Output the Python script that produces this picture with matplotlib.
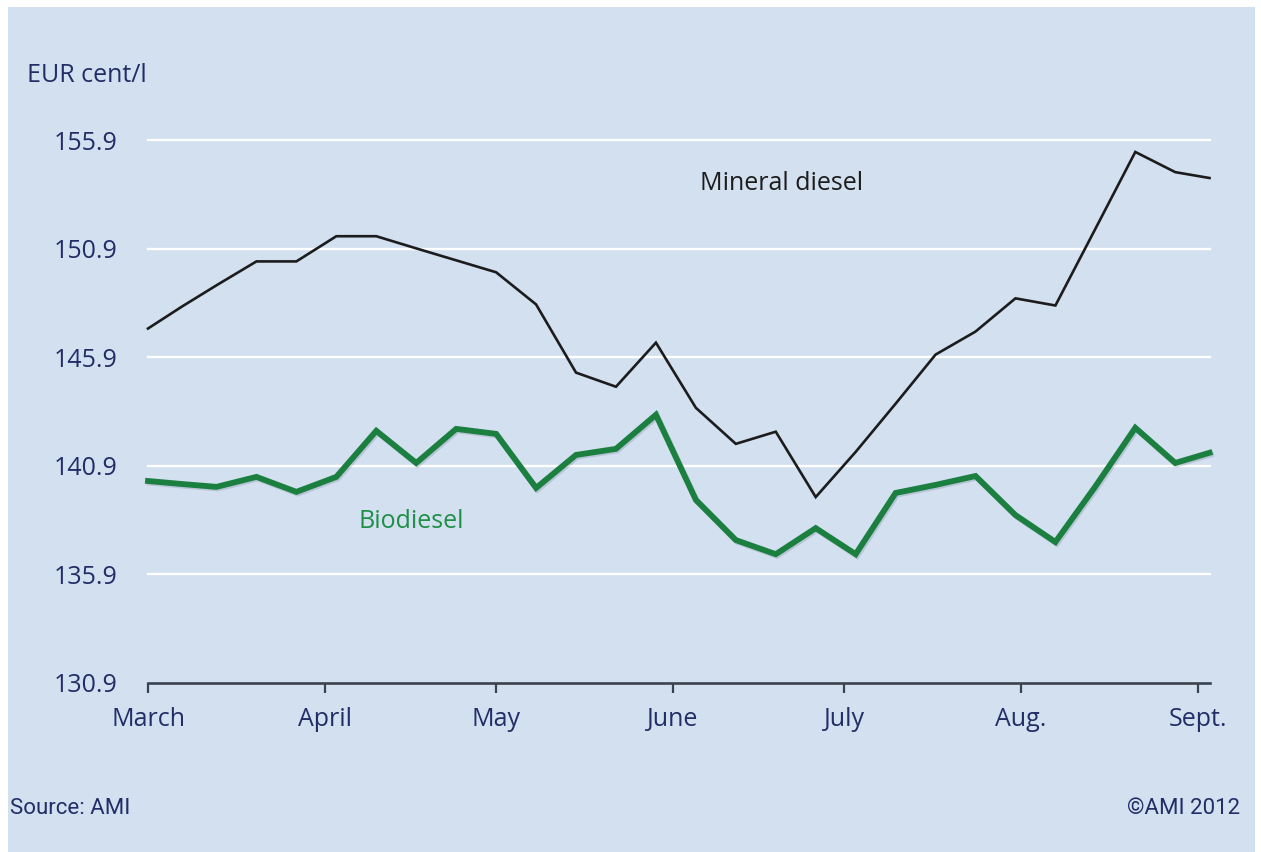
import matplotlib
matplotlib.use("Agg")
import matplotlib.pyplot as plt
import matplotlib.patheffects as pe
from matplotlib.patches import Rectangle
import pandas as pd

# Weekly consumer prices, EUR cent per litre (2012)
dates = ["2012-03-01", "2012-03-07", "2012-03-13", "2012-03-20", "2012-03-27",
         "2012-04-03", "2012-04-10", "2012-04-17", "2012-04-24", "2012-05-01",
         "2012-05-08", "2012-05-15", "2012-05-22", "2012-05-29", "2012-06-05",
         "2012-06-12", "2012-06-19", "2012-06-26", "2012-07-03", "2012-07-10",
         "2012-07-17", "2012-07-24", "2012-07-31", "2012-08-07", "2012-08-14",
         "2012-08-21", "2012-08-28", "2012-09-03"]
mineral_diesel = [147.22, 148.24, 149.21, 150.31, 150.31, 151.47, 151.47, 150.91,
                  150.36, 149.81, 148.33, 145.19, 144.54, 146.57, 143.57, 141.91,
                  142.47, 139.46, 141.54, 143.76, 146.02, 147.08, 148.61, 148.28,
                  151.81, 155.35, 154.42, 154.15]
biodiesel = [140.20, 140.06, 139.93, 140.39, 139.70, 140.39, 142.51, 141.03,
             142.60, 142.37, 139.88, 141.40, 141.68, 143.25, 139.33, 137.48,
             136.83, 138.03, 136.83, 139.65, 140.02, 140.43, 138.63, 137.39,
             139.95, 142.65, 141.03, 141.50]

month_ticks = ["2012-03-01", "2012-04-01", "2012-05-01", "2012-06-01",
               "2012-07-01", "2012-08-01", "2012-09-01"]
month_labels = ["March", "April", "May", "June", "July", "Aug.", "Sept."]
y_ticks = [130.9, 135.9, 140.9, 145.9, 150.9, 155.9]

BG = "#d3e0f0"
NAVY = "#232d66"
GREEN = "#1b7f40"
FONT = "Open Sans"

W, H = 1261, 852
fig = plt.figure(figsize=(W / 100, H / 100), dpi=100, facecolor="white")

# light blue panel with a thin white margin
fig.patches.append(Rectangle((8 / W, 0), (1255 - 8) / W, (H - 7) / H,
                             transform=fig.transFigure, facecolor=BG,
                             edgecolor="none", zorder=-10))

x = pd.to_datetime(dates)
x0 = pd.Timestamp("2012-03-01")
x1 = pd.Timestamp("2012-09-03")
px_per_day = 5.707
left_px, bottom_px, top_px = 148, 683, 140
right_px = left_px + (x1 - x0).days * px_per_day
ax = fig.add_axes([left_px / W, 1 - bottom_px / H,
                   (right_px - left_px) / W, (bottom_px - top_px) / H])
ax.set_zorder(2)
ax.set_facecolor("none")
ax.set_xlim(x0, x1)
ax.set_ylim(y_ticks[0], y_ticks[-1])

# white horizontal gridlines
for v in y_ticks[1:]:
    ax.axhline(v, color="white", lw=1.7, zorder=1, clip_on=False)

ax.plot(x, mineral_diesel, color="#1c1c1c", lw=1.9, zorder=3,
        solid_joinstyle="miter", clip_on=False)
ax.plot(x, biodiesel, color=GREEN, lw=4.2, zorder=3,
        solid_joinstyle="miter", clip_on=False,
        path_effects=[pe.SimpleLineShadow(offset=(1.0, -1.2), shadow_color="#33475e",
                                          alpha=0.18),
                      pe.Normal()])

for s in ["top", "right", "left"]:
    ax.spines[s].set_visible(False)
ax.spines["bottom"].set_color("#3a4350")
ax.spines["bottom"].set_linewidth(1.9)
ax.spines["bottom"].set_zorder(4)

ax.set_xticks(pd.to_datetime(month_ticks))
ax.set_xticklabels(month_labels)
ax.set_yticks(y_ticks)
ax.set_yticklabels([f"{v:.1f}" for v in y_ticks])
ax.tick_params(axis="x", direction="out", length=7, width=1.6,
               color="#3a4350", pad=10, labelsize=18, labelcolor=NAVY)
ax.tick_params(axis="y", length=0, pad=22, labelsize=18, labelcolor=NAVY)
for lab in ax.get_xticklabels() + ax.get_yticklabels():
    lab.set_fontfamily(FONT)

def fx(px):
    return px / W

def fy(py):
    return 1 - py / H

fig.text(fx(27), fy(75), "EUR cent/l", ha="left", va="center",
         fontsize=18, color=NAVY, family=FONT)
fig.text(fx(782), fy(183), "Mineral diesel", ha="center", va="center",
         fontsize=18, color="#1c1c1c", family=FONT)
fig.text(fx(411), fy(521), "Biodiesel", ha="center", va="center",
         fontsize=18, color="#1f8f48", family=FONT)
fig.text(fx(10), fy(808), "Source: AMI", ha="left", va="center",
         fontsize=16, color=NAVY, family="Roboto")
fig.text(fx(1240), fy(808), "\u00a9AMI 2012", ha="right", va="center",
         fontsize=16, color=NAVY, family="Roboto")

fig.savefig("out.png", dpi=100, facecolor="white")
